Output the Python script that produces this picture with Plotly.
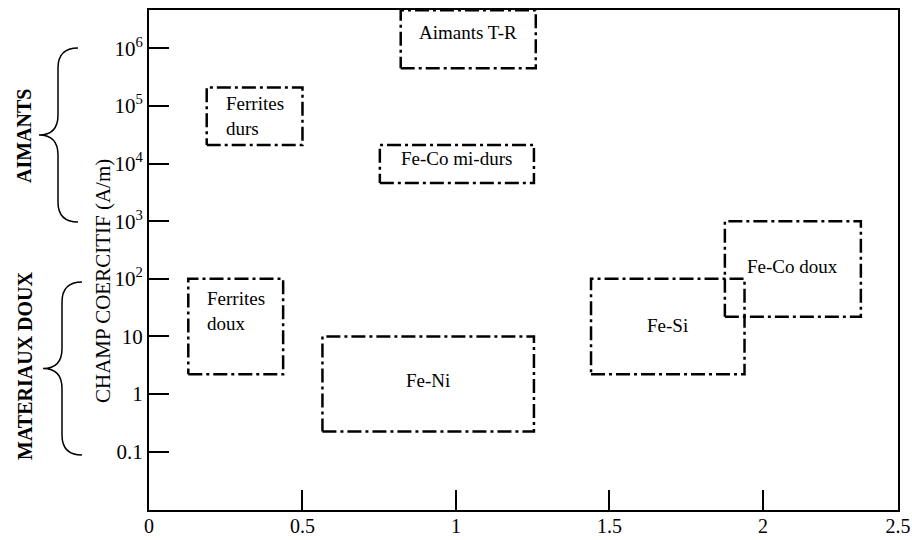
import math
import plotly.graph_objects as go

# ---- data ----
materials = ["Aimants T-R", "Ferrites<br>durs", "Fe-Co mi-durs", "Fe-Co doux",
             "Ferrites<br>doux", "Fe-Si", "Fe-Ni"]
x_low = [0.82, 0.188, 0.752, 1.876, 0.128, 1.44, 0.565]
x_high = [1.26, 0.50, 1.254, 2.319, 0.437, 1.94, 1.254]
hc_low = [4.5e5, 2.1e4, 4.6e3, 22, 2.2, 2.2, 0.225]
hc_high = [4.6e6, 2.1e5, 2.1e4, 1000, 100, 100, 10]

y_tickvals = [0.1, 1, 10, 100, 1e3, 1e4, 1e5, 1e6]
y_ticktext = ["0.1", "1", "10", "10<sup>2</sup>", "10<sup>3</sup>",
              "10<sup>4</sup>", "10<sup>5</sup>", "10<sup>6</sup>"]
x_max = 2.44
x_tickvals = [0, 0.5, 1, 1.5, 2, x_max]
x_ticktext = ["0", "0.5", "1", "1.5", "2", "2.5"]

# ---- style ----
FONT = "Liberation Serif, Times New Roman, Times, serif"
label_yshift = [7, 0, 6, 2, 16, 1, 3]
W, H = 912, 540
ML, MR, MT, MB = 149, 14, 10, 30
PW, PH = W - ML - MR, H - MT - MB


def px2paper(px, py):
    return (px - ML) / PW, (H - MB - py) / PH


fig = go.Figure()
for i, name in enumerate(materials):
    x0, x1, y0, y1 = x_low[i], x_high[i], hc_low[i], hc_high[i]
    fig.add_trace(go.Scatter(
        x=[x0, x1, x1, x0, x0], y=[y0, y0, y1, y1, y0], mode="lines",
        line=dict(color="black", width=2.5, dash="14px,4px,3px,4px"),
        hoverinfo="skip", showlegend=False))
    fig.add_annotation(
        x=(x0 + x1) / 2, y=(math.log10(y0) + math.log10(y1)) / 2,
        xref="x", yref="y", text=name, showarrow=False, align="left",
        yshift=label_yshift[i], font=dict(family=FONT, size=19, color="black"))


def brace(xtip, xarm, xend, ytop, ybot):
    ymid = (ytop + ybot) / 2
    r = 20
    pts = [(xend, ytop), (xarm, ytop), (xarm, ytop + r), (xarm, ymid - r),
           (xarm, ymid), (xtip, ymid), (xarm, ymid), (xarm, ymid + r),
           (xarm, ybot - r), (xarm, ybot), (xend, ybot)]
    p = [px2paper(*q) for q in pts]
    f = lambda q: f"{q[0]:.5f},{q[1]:.5f}"
    return (f"M {f(p[0])} Q {f(p[1])} {f(p[2])} L {f(p[3])} Q {f(p[4])} {f(p[5])} "
            f"Q {f(p[6])} {f(p[7])} L {f(p[8])} Q {f(p[9])} {f(p[10])}")


fig.add_shape(type="path", xref="paper", yref="paper",
              path=brace(39, 58, 78, 48, 222), line=dict(color="black", width=1.5))
fig.add_shape(type="path", xref="paper", yref="paper",
              path=brace(43, 62, 82, 282, 455), line=dict(color="black", width=1.5))

for txt, px, py, bold in [("CHAMP COERCITIF (A/m)", 103, 281, False),
                          ("AIMANTS", 24, 136, True),
                          ("MATERIAUX DOUX", 25, 366, True)]:
    ax_, ay_ = px2paper(px, py)
    fig.add_annotation(x=ax_, y=ay_, xref="paper", yref="paper",
                       text=f"<b>{txt}</b>" if bold else txt, textangle=-90,
                       showarrow=False, xanchor="center", yanchor="middle",
                       font=dict(family=FONT, size=20 if bold else 21, color="black"))

axis_common = dict(showline=True, linecolor="black", linewidth=2, mirror=True,
                   ticks="inside", ticklen=20, tickwidth=2, tickcolor="black",
                   showgrid=False, zeroline=False, automargin=False)
fig.update_xaxes(range=[0, x_max], tickmode="array", tickvals=x_tickvals,
                 ticktext=x_ticktext, ticklabelstandoff=-3,
                 tickfont=dict(family=FONT, size=20, color="black"), **axis_common)
fig.update_yaxes(type="log", range=[-2.012, 6.665], tickmode="array",
                 tickvals=y_tickvals, ticktext=y_ticktext,
                 tickfont=dict(family=FONT, size=21, color="black"), **axis_common)
fig.update_layout(template="none", width=W, height=H,
                  margin=dict(l=ML, r=MR, t=MT, b=MB, autoexpand=False),
                  paper_bgcolor="white", plot_bgcolor="white",
                  font=dict(family=FONT, color="black"))
fig.write_html("out.html", config={"displayModeBar": False})
